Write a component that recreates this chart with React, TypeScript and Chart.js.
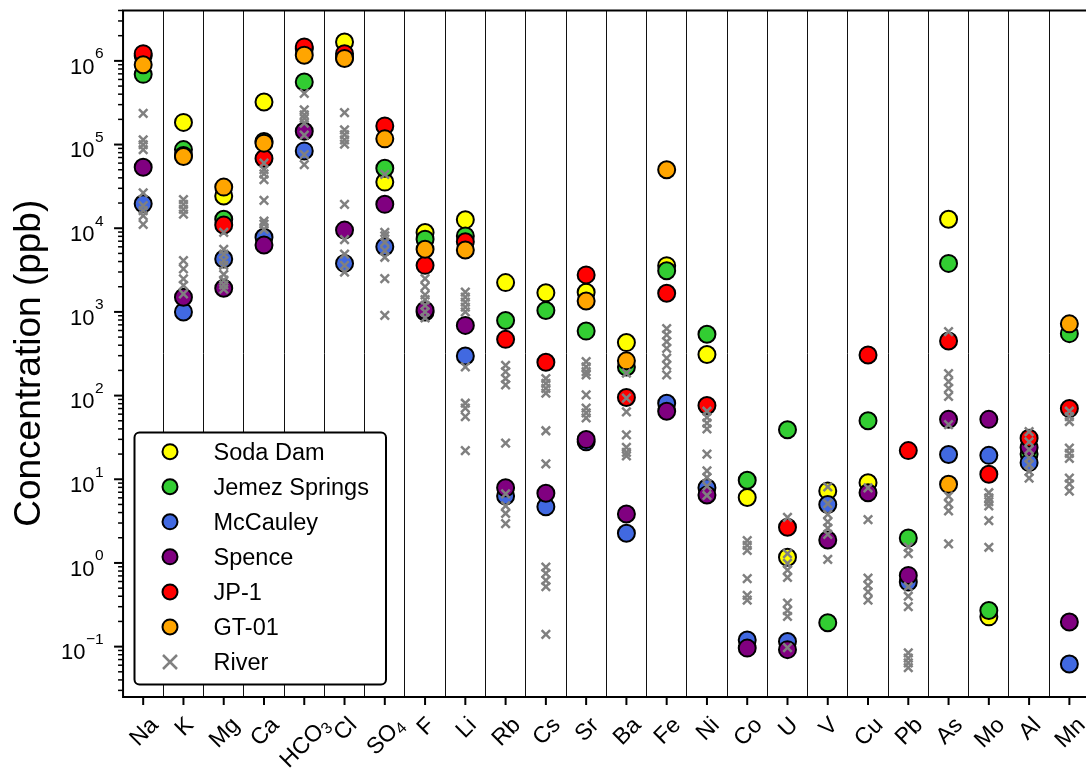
import React, { useEffect, useRef } from 'react';
import { Chart, registerables } from 'chart.js';

Chart.register(...registerables);

// ---------- data ----------
const categories = ['Na', 'K', 'Mg', 'Ca', 'HCO₃', 'Cl', 'SO₄', 'F', 'Li', 'Rb', 'Cs', 'Sr', 'Ba', 'Fe', 'Ni', 'Co', 'U', 'V', 'Cu', 'Pb', 'As', 'Mo', 'Al', 'Mn'];

const sodaDam = [1.15e6, 1.84e5, 2.43e4, 3.22e5, 1.4e6, 1.68e6, 3.56e4, 8.9e3, 1.26e4, 2240, 1690, 1720, 430, 3570, 310, 6.06, 1.17, 7.26, 9.1, null, 1.28e4, 0.227, null, null];
const jemezSprings = [6.9e5, 8.7e4, 1.28e4, 1.09e5, 5.6e5, 1.1e6, 5.2e4, 7.4e3, 8.1e3, 790, 1040, 590, 220, 3100, 540, 9.75, 39, 0.193, 50, 1.99, 3800, 0.27, 20, 550];
const mcCauley = [1.96e4, 1.0e3, 4.29e3, 7.8e3, 8.4e4, 3.8e3, 6.0e3, 1.0e3, 297, 6.3, 4.7, 28, 2.26, 81, 7.9, 0.12, 0.115, 5.0, null, 0.59, 19.8, 19.3, 15.8, 0.062];
const spence = [5.36e4, 1.5e3, 1.92e3, 6.3e3, 1.44e5, 9.5e3, 1.93e4, 1.05e3, 690, 7.9, 6.8, 29.8, 3.84, 65, 6.5, 0.096, 0.092, 1.88, 6.9, 0.71, 52, 52, 24, 0.197];
const jp1 = [1.22e6, 7.4e4, 1.09e4, 6.8e4, 1.47e6, 1.22e6, 1.67e5, 3.6e3, 6.9e3, 470, 250, 2770, 95, 1670, 76, null, 2.67, null, 305, 22, 450, 11.5, 31, 70];
const gt01 = [9.0e5, 7.2e4, 3.1e4, 1.04e5, 1.17e6, 1.07e6, 1.17e5, 5.6e3, 5.5e3, null, null, 1350, 260, 5.0e4, null, null, null, null, null, null, 8.7, null, null, 720];

// river samples, one list per category (same order as categories)
const riverValues: number[][] = [
  [2.36e5, 1.14e5, 9.95e4, 8.7e4, 2.65e4, 1.86e4, 1.62e4, 1.41e4, 1.11e4],
  [2.2e4, 1.93e4, 1.68e4, 1.47e4, 4.1e3, 3.26e3, 2.48e3, 2.07e3, 1.64e3],
  [8.9e3, 5.6e3, 4.9e3, 4.1e3, 3.6e3, 2.8e3, 2.4e3, 2.1e3, 1.87e3],
  [6.0e4, 5.0e4, 4.45e4, 3.8e4, 2.15e4, 1.22e4, 1.12e4, 9.7e3],
  [4.1e5, 2.6e5, 2.26e5, 2.06e5, 1.8e5, 1.3e5, 7.6e4, 5.75e4],
  [2.41e5, 1.5e5, 1.31e5, 1.14e5, 1.01e5, 1.93e4, 7.3e3, 4.9e3, 3.6e3, 2.98e3],
  [4.4e4, 8.9e3, 8.1e3, 6.8e3, 5.4e3, 4.5e3, 2.5e3, 910],
  [2.5e3, 2.0e3, 1.6e3, 1.4e3, 1.2e3, 1.0e3, 850],
  [1.72e3, 1.5e3, 1.31e3, 1.14e3, 1.0e3, 220, 81, 71, 56, 22],
  [230, 193, 160, 134, 27, 6.7, 4.8, 3.9, 2.95],
  [160, 140, 122, 107, 38, 15.3, 0.89, 0.75, 0.62, 0.52, 0.14],
  [254, 220, 193, 177, 102, 71, 62, 54],
  [185, 93, 64, 34, 24, 21, 19],
  [630, 530, 440, 366, 280, 230, 177],
  [65, 55, 47, 40, 20, 12.6, 10.5, 8.3, 6.4],
  [1.85, 1.62, 1.41, 0.65, 0.41, 0.36],
  [3.5, 1.29, 0.99, 0.82, 0.67, 0.33, 0.27, 0.23, 0.097],
  [8.1, 5.1, 3.8, 3.1, 2.6, 2.2, 1.1],
  [7.9, 3.3, 0.66, 0.54, 0.45, 0.36],
  [1.55, 1.29, 0.52, 0.40, 0.30, 0.084, 0.073, 0.064, 0.056],
  [580, 183, 147, 122, 98, 45, 6.3, 5.1, 4.2, 1.69],
  [6.9, 6.0, 5.4, 4.8, 3.2, 1.54],
  [37, 28, 22.6, 18, 15, 12.4, 10.3],
  [65, 56, 49, 23.5, 20.4, 17.8, 10.3, 8.8, 7.2],
];

const seriesNames = ['Soda Dam', 'Jemez Springs', 'McCauley', 'Spence', 'JP-1', 'GT-01', 'River'];
const seriesColors = ['#ffff00', '#32cd32', '#4169e1', '#800080', '#ff0000', '#ffa500', '#808080'];
const springSeries = [sodaDam, jemezSprings, mcCauley, spence, jp1, gt01];
const yTickExponents = [-1, 0, 1, 2, 3, 4, 5, 6];
const yAxisTitle = 'Concentration (ppb)';
const Y_MIN = 0.025;
const Y_MAX = 4e6;

const FONT = '"Liberation Sans", Arial, Helvetica, sans-serif';

// ---------- helpers ----------
const SUBS: Record<string, string> = { '₀': '0', '₁': '1', '₂': '2', '₃': '3', '₄': '4', '₅': '5', '₆': '6', '₇': '7', '₈': '8', '₉': '9' };

function splitLabel(s: string) {
  const segs: { text: string; sub: boolean }[] = [];
  for (const ch of s) {
    const sub = ch in SUBS;
    const t = sub ? SUBS[ch] : ch;
    const last = segs[segs.length - 1];
    if (last && last.sub === sub) last.text += t;
    else segs.push({ text: t, sub });
  }
  return segs;
}

const decorPlugin = {
  id: 'decor',
  afterDraw(chart: any) {
    const ctx: CanvasRenderingContext2D = chart.ctx;
    const { left, right, top, bottom } = chart.chartArea;
    const xs = chart.scales.x;
    const ys = chart.scales.y;
    ctx.save();

    // spines
    ctx.strokeStyle = '#000';
    ctx.lineWidth = 2;
    ctx.strokeRect(left, top, right - left, bottom - top);

    // y ticks
    ctx.lineCap = 'butt';
    for (let e = -2; e <= 6; e++) {
      for (let m = 1; m <= 9; m++) {
        const v = m * Math.pow(10, e);
        if (v < Y_MIN || v > Y_MAX) continue;
        const y = ys.getPixelForValue(v);
        ctx.beginPath();
        if (m === 1) {
          ctx.lineWidth = 2;
          ctx.moveTo(left - 9, y);
        } else {
          ctx.lineWidth = 1.5;
          ctx.moveTo(left - 5, y);
        }
        ctx.lineTo(left, y);
        ctx.stroke();
      }
    }

    // y tick labels 10^n
    ctx.fillStyle = '#000';
    ctx.textBaseline = 'alphabetic';
    const R = left - 19.5;
    for (const e of yTickExponents) {
      const y = ys.getPixelForValue(Math.pow(10, e));
      const expStr = e < 0 ? '\u2212' + Math.abs(e) : String(e);
      ctx.font = `15.5px ${FONT}`;
      const ew = ctx.measureText(expStr).width;
      ctx.textAlign = 'left';
      ctx.fillText(expStr, R - ew, y - 2.5);
      ctx.font = `22px ${FONT}`;
      ctx.textAlign = 'right';
      ctx.fillText('10', R - ew - 0.5, y + 12.8);
    }

    // x ticks and labels
    const fs = 23;
    const H = fs * 1.117;
    const y0 = bottom + 14.5;
    categories.forEach((lab, i) => {
      const x = xs.getPixelForValue(i);
      ctx.lineWidth = 2;
      ctx.beginPath();
      ctx.moveTo(x, bottom);
      ctx.lineTo(x, bottom + 8);
      ctx.stroke();

      const segs = splitLabel(lab);
      let W = 0;
      const widths = segs.map((s) => {
        ctx.font = `${s.sub ? fs * 0.7 : fs}px ${FONT}`;
        const w = ctx.measureText(s.text).width;
        W += w;
        return w;
      });
      const D = (W + H) * Math.SQRT1_2;
      ctx.save();
      ctx.translate(x, y0 + D / 2);
      ctx.rotate(-Math.PI / 4);
      ctx.textAlign = 'left';
      let cx = -W / 2;
      const base = 0.3465 * fs;
      segs.forEach((s, k) => {
        ctx.font = `${s.sub ? fs * 0.7 : fs}px ${FONT}`;
        ctx.fillText(s.text, cx, s.sub ? base + fs * 0.15 : base);
        cx += widths[k];
      });
      ctx.restore();
    });

    // y axis title
    ctx.save();
    ctx.translate(left - 83, (top + bottom) / 2 + 9.5);
    ctx.rotate(-Math.PI / 2);
    ctx.font = `37px ${FONT}`;
    ctx.textAlign = 'center';
    ctx.textBaseline = 'alphabetic';
    ctx.fillText(yAxisTitle, 0, 0);
    ctx.restore();

    // legend
    const bx = 134.5, by = 432.5, bw = 251.5, bh = 252, r = 5;
    ctx.beginPath();
    ctx.moveTo(bx + r, by);
    ctx.lineTo(bx + bw - r, by);
    ctx.arcTo(bx + bw, by, bx + bw, by + r, r);
    ctx.lineTo(bx + bw, by + bh - r);
    ctx.arcTo(bx + bw, by + bh, bx + bw - r, by + bh, r);
    ctx.lineTo(bx + r, by + bh);
    ctx.arcTo(bx, by + bh, bx, by + bh - r, r);
    ctx.lineTo(bx, by + r);
    ctx.arcTo(bx, by, bx + r, by, r);
    ctx.closePath();
    ctx.fillStyle = '#fff';
    ctx.fill();
    ctx.lineWidth = 2;
    ctx.strokeStyle = '#000';
    ctx.stroke();

    const ds = chart.data.datasets;
    ds.forEach((d: any, i: number) => {
      const ly = 451.7 + i * 35.05;
      const lx = 170;
      if (d.pointStyle === 'crossRot') {
        ctx.strokeStyle = d.borderColor;
        ctx.lineWidth = 2.5;
        ctx.beginPath();
        ctx.moveTo(lx - 7, ly - 7);
        ctx.lineTo(lx + 7, ly + 7);
        ctx.moveTo(lx + 7, ly - 7);
        ctx.lineTo(lx - 7, ly + 7);
        ctx.stroke();
      } else {
        ctx.beginPath();
        ctx.arc(lx, ly, 7.5, 0, Math.PI * 2);
        ctx.fillStyle = d.backgroundColor;
        ctx.fill();
        ctx.lineWidth = 2;
        ctx.strokeStyle = '#000';
        ctx.stroke();
      }
      ctx.fillStyle = '#000';
      ctx.font = `23.5px ${FONT}`;
      ctx.textAlign = 'left';
      ctx.textBaseline = 'alphabetic';
      ctx.fillText(d.label, 213.5, ly + 8.3);
    });

    ctx.restore();
  },
};

export default function App() {
  const ref = useRef<HTMLCanvasElement>(null);

  useEffect(() => {
    const datasets: any[] = springSeries.map((vals, si) => ({
      label: seriesNames[si],
      data: vals
        .map((v, i) => (v === null ? null : { x: categories[i], y: v }))
        .filter((p) => p !== null),
      pointStyle: 'circle',
      pointRadius: 8.5,
      pointBorderWidth: 2,
      backgroundColor: seriesColors[si],
      borderColor: '#000',
      order: 6 - si,
    }));
    const riverPoints: { x: string; y: number }[] = [];
    riverValues.forEach((vals, i) => vals.forEach((v) => riverPoints.push({ x: categories[i], y: v })));
    datasets.push({
      label: seriesNames[6],
      data: riverPoints,
      pointStyle: 'crossRot',
      pointRadius: 6,
      pointBorderWidth: 2.5,
      backgroundColor: seriesColors[6],
      borderColor: seriesColors[6],
      order: 0,
    });

    const chart = new Chart(ref.current as HTMLCanvasElement, {
      type: 'scatter',
      data: { datasets },
      options: {
        responsive: false,
        animation: false,
        devicePixelRatio: 1,
        events: [],
        layout: { padding: { left: 0, top: 7, right: 4.7, bottom: 0 } },
        plugins: { legend: { display: false }, tooltip: { enabled: false } },
        scales: {
          x: {
            type: 'category',
            labels: categories,
            offset: true,
            grid: { display: true, offset: true, color: '#111', lineWidth: 1, drawTicks: false },
            border: { display: false },
            ticks: { display: false },
            afterFit: (s: any) => { s.height = 74; },
          },
          y: {
            type: 'logarithmic',
            min: Y_MIN,
            max: Y_MAX,
            bounds: 'data',
            grid: { display: false },
            border: { display: false },
            ticks: { display: false },
            afterBuildTicks: (s: any) => {
              s.ticks = yTickExponents.map((e) => ({ value: Math.pow(10, e), major: true }));
            },
            afterFit: (s: any) => { s.width = 123.05; },
          },
        },
      } as any,
      plugins: [decorPlugin],
    } as any);
    return () => chart.destroy();
  }, []);

  return (
    <div style={{ position: 'absolute', left: 0, top: 0, width: 1086, height: 771, overflow: 'hidden', background: '#fff' }}>
      <canvas ref={ref} width={1100} height={771} style={{ display: 'block', width: 1100, height: 771 }} />
    </div>
  );
}
